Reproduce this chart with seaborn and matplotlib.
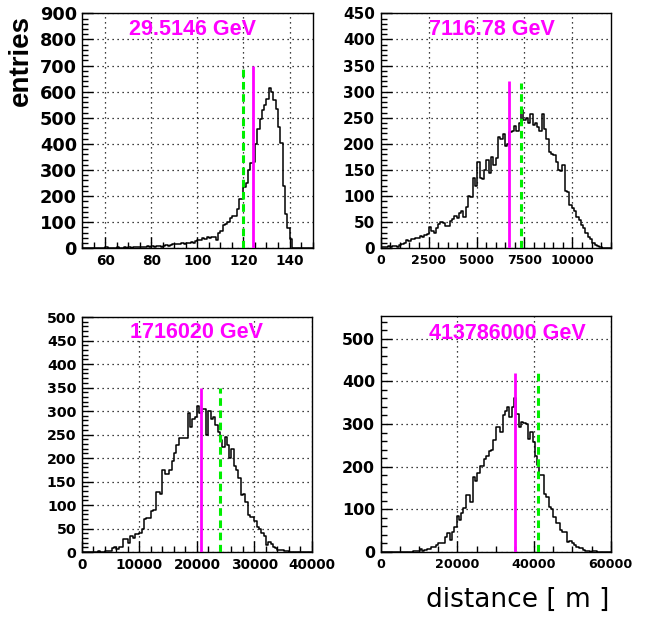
import numpy as np
import pandas as pd
import matplotlib
matplotlib.use('Agg')
import matplotlib.pyplot as plt
from matplotlib.ticker import MultipleLocator
import seaborn as sns

# bin contents, 100 bins per panel
counts_1 = [0, 0, 0, 0, 0, 2, 0, 1, 0, 1,
            3, 0, 1, 2, 0, 3, 1, 2, 4, 1,
            3, 2, 4, 3, 5, 4, 6, 5, 7, 6,
            8, 5, 9, 7, 6, 8, 12, 9, 14, 17,
            15, 18, 16, 20, 17, 22, 19, 24, 20, 27,
            33, 30, 38, 36, 42, 40, 44, 45, 30, 60,
            68, 88, 92, 100, 115, 122, 125, 150, 190, 188,
            235, 250, 300, 328, 330, 400, 455, 495, 530, 550,
            572, 612, 598, 568, 532, 466, 402, 240, 130, 78,
            35, 0, 0, 0, 0, 0, 0, 0, 0, 0]

counts_2 = [2, 3, 2, 4, 3, 5, 4, 3, 6, 8,
            10, 16, 14, 18, 17, 20, 19, 24, 22, 25,
            27, 40, 33, 30, 38, 47, 50, 49, 43, 42,
            52, 57, 62, 58, 68, 72, 60, 80, 100, 98,
            135, 120, 165, 135, 132, 150, 170, 145, 175, 160,
            172, 213, 210, 218, 195, 200, 222, 225, 235, 225,
            240, 265, 245, 250, 240, 258, 236, 240, 232, 225,
            258, 228, 210, 185, 180, 178, 165, 150, 148, 160,
            110, 108, 82, 78, 72, 60, 55, 45, 38, 30,
            22, 18, 10, 6, 4, 2, 1, 0, 0, 0]

counts_3 = [0, 0, 0, 0, 0, 0, 0, 3, 1, 0,
            2, 2, 2, 8, 10, 6, 11, 11, 27, 27,
            20, 33, 29, 38, 38, 41, 48, 70, 72, 72,
            88, 89, 128, 128, 124, 175, 165, 165, 175, 194,
            210, 227, 243, 243, 242, 242, 295, 266, 283, 288,
            310, 295, 305, 305, 250, 300, 282, 288, 270, 256,
            238, 224, 245, 228, 200, 220, 182, 175, 157, 121,
            124, 107, 79, 75, 75, 65, 54, 50, 40, 33,
            15, 22, 18, 10, 8, 4, 4, 4, 2, 2,
            1, 0, 0, 0, 0, 0, 0, 0, 0, 0]

counts_4 = [0, 0, 0, 0, 0, 0, 0, 0, 1, 0,
            1, 0, 0, 1, 2, 3, 2, 8, 3, 5,
            8, 8, 11, 11, 16, 20, 20, 22, 36, 45,
            28, 47, 59, 84, 76, 92, 102, 134, 134, 117,
            176, 167, 185, 201, 201, 217, 224, 237, 240, 263,
            293, 293, 281, 320, 330, 339, 316, 339, 362, 324,
            294, 304, 302, 300, 265, 281, 258, 226, 203, 180,
            180, 137, 129, 106, 100, 82, 68, 68, 51, 47,
            47, 24, 26, 20, 16, 12, 9, 9, 5, 2,
            2, 1, 3, 3, 0, 0, 0, 0, 0, 0]

labels = ['29.5146 GeV', '7116.78 GeV', '1716020 GeV', '413786000 GeV']
x_ranges = [(50, 150), (0, 12000), (0, 40000), (0, 60000)]
y_max = [900, 450, 500, 553]
solid_x = [124.2, 6680, 20700, 35130]
solid_top = [700, 320, 350, 420]
dashed_x = [120.0, 7300, 24000, 41040]
dashed_top = [700, 317, 350, 420]

sns.set_style('white')
plt.rcParams['font.family'] = ['DejaVu Sans']
plt.rcParams['text.color'] = 'black'
plt.rcParams['xtick.color'] = 'black'
plt.rcParams['ytick.color'] = 'black'
plt.rcParams['xtick.labelcolor'] = 'black'
plt.rcParams['ytick.labelcolor'] = 'black'

fig = plt.figure(figsize=(6.47, 6.21), dpi=100)

rects = [[0.1275, 0.6002, 0.3555, 0.3784],
         [0.5884, 0.6002, 0.3555, 0.3784],
         [0.1267, 0.1111, 0.3555, 0.3784],
         [0.5884, 0.1111, 0.3555, 0.3800]]
x_major = [20, 2500, 10000, 20000]
x_minor = [5, 500, 2000, 5000]
y_major = [100, 50, 50, 100]
y_minor = [20, 10, 10, 20]
ysize = [12.8, 11, 10.2, 11.4]
xsize = [9.8, 9, 9.8, 9.2]
text_pos = [(0.48, 0.929), (0.484, 0.93), (0.5, 0.932), (0.549, 0.928)]

all_counts = [counts_1, counts_2, counts_3, counts_4]

for i in range(4):
    ax = fig.add_axes(rects[i])
    lo, hi = x_ranges[i]
    n = len(all_counts[i])
    width = (hi - lo) / n
    df = pd.DataFrame({'x': lo + width * (np.arange(n) + 0.5),
                       'w': all_counts[i]})
    sns.histplot(data=df, x='x', weights='w', bins=n, binrange=(lo, hi),
                 element='step', fill=False, color='black', linewidth=1.1, ax=ax)
    ax.vlines(solid_x[i], 0, solid_top[i], color='#ff00ff', linewidth=2, zorder=3)
    ax.vlines(dashed_x[i], 0, dashed_top[i], color='#00ee00', linewidth=2.2,
              linestyles=(0, (2.5, 1.5)), zorder=3)
    ax.set_xlim(lo, hi)
    ax.set_ylim(0, y_max[i])
    ax.set_xlabel('')
    ax.set_ylabel('')
    ax.xaxis.set_major_locator(MultipleLocator(x_major[i]))
    ax.xaxis.set_minor_locator(MultipleLocator(x_minor[i]))
    ax.yaxis.set_major_locator(MultipleLocator(y_major[i]))
    ax.yaxis.set_minor_locator(MultipleLocator(y_minor[i]))
    ax.grid(True, which='major', color='black', linestyle=(0, (1, 3)), linewidth=0.9)
    ax.tick_params(which='both', direction='in', top=False, right=False,
                   left=True, bottom=True, color='black', width=1)
    ax.tick_params(which='major', length=8)
    ax.tick_params(which='minor', length=4)
    ax.tick_params(axis='y', labelsize=ysize[i], pad=4)
    ax.tick_params(axis='x', labelsize=xsize[i], pad=4)
    for lab in ax.get_xticklabels() + ax.get_yticklabels():
        lab.set_fontweight('bold')
        lab.set_color('black')
    for sp in ax.spines.values():
        sp.set_color('black')
        sp.set_linewidth(1)
    ax.text(text_pos[i][0], text_pos[i][1], labels[i], transform=ax.transAxes,
            ha='center', va='center', color='#ff00ff', fontsize=15.5,
            fontweight='bold', family=['Liberation Sans', 'DejaVu Sans'])

fig.text(0.032, 0.903, 'entries', rotation=90, ha='center', va='center',
         fontsize=20, fontweight='bold', color='black',
         family=['Liberation Sans', 'DejaVu Sans'])
fig.text(0.8006, 0.034, 'distance [ m ]', ha='center', va='center',
         fontsize=19, color='black')

fig.savefig('out.png', dpi=100)
